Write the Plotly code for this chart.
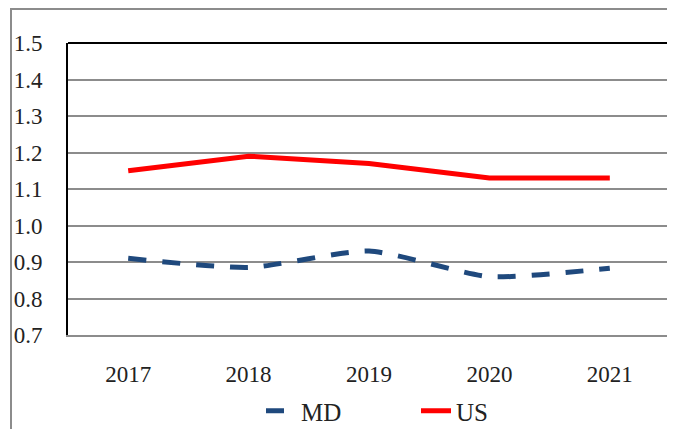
import plotly.graph_objects as go

years = ["2017", "2018", "2019", "2020", "2021"]
md_values = [0.91, 0.885, 0.93, 0.86, 0.883]
us_values = [1.15, 1.19, 1.17, 1.13, 1.13]
y_ticks = [0.7, 0.8, 0.9, 1.0, 1.1, 1.2, 1.3, 1.4, 1.5]
y_tick_labels = ["0.7", "0.8", "0.9", "1.0", "1.1", "1.2", "1.3", "1.4", "1.5"]

FONT = "Liberation Serif, Times New Roman, serif"

fig = go.Figure()
fig.add_trace(go.Scatter(
    x=years, y=md_values, name="MD", mode="lines",
    line=dict(color="#1F497D", width=5, dash="18px,16px", shape="spline", smoothing=0.6),
))
fig.add_trace(go.Scatter(
    x=years, y=us_values, name="US", mode="lines",
    line=dict(color="#FF0000", width=5),
))

# page has an 8px body margin, so work in (reference px - 8)
OFF = 8
W, H = 667, 421
L, T = 68 - OFF, 43 - OFF
Rx, By = 670 - OFF, 335 - OFF
R, B = W - Rx, H - By
pw = Rx - L
ph = By - T

def px(x):
    return (x - OFF - L) / pw

def py(y):
    return (By - (y - OFF)) / ph

shapes = [
    dict(type="rect", xref="paper", yref="paper",
         x0=px(11), x1=px(671), y0=py(460), y1=py(9),
         line=dict(color="#8C8C8C", width=2), layer="below"),
    dict(type="line", xref="paper", yref="paper", x0=0, x1=1, y0=1, y1=1,
         line=dict(color="black", width=2)),
]

fig.update_layout(
    width=W, height=H,
    margin=dict(l=L, r=R, t=T, b=B, autoexpand=False),
    paper_bgcolor="white", plot_bgcolor="white",
    font=dict(family=FONT, size=23, color="#222222"),
    showlegend=True,
    legend=dict(orientation="h", x=px(261), xanchor="left", y=py(411), yanchor="middle",
                font=dict(family=FONT, size=25, color="#222222"),
                entrywidth=110, tracegroupgap=0),
    xaxis=dict(type="category", range=[-0.5, 4.5], showgrid=False,
               showline=True, linecolor="#8C8C8C", linewidth=2, ticks="",
               tickfont=dict(family=FONT, size=23), ticklabelstandoff=17, automargin=False),
    yaxis=dict(range=[0.7, 1.5], tickvals=y_ticks, ticktext=y_tick_labels,
               showgrid=True, gridcolor="#8C8C8C", gridwidth=2,
               showline=True, linecolor="black", linewidth=2, ticks="",
               zeroline=False, tickfont=dict(family=FONT, size=23),
               ticklabelstandoff=19, automargin=False),
    shapes=shapes,
)

fig.write_html("out.html")
